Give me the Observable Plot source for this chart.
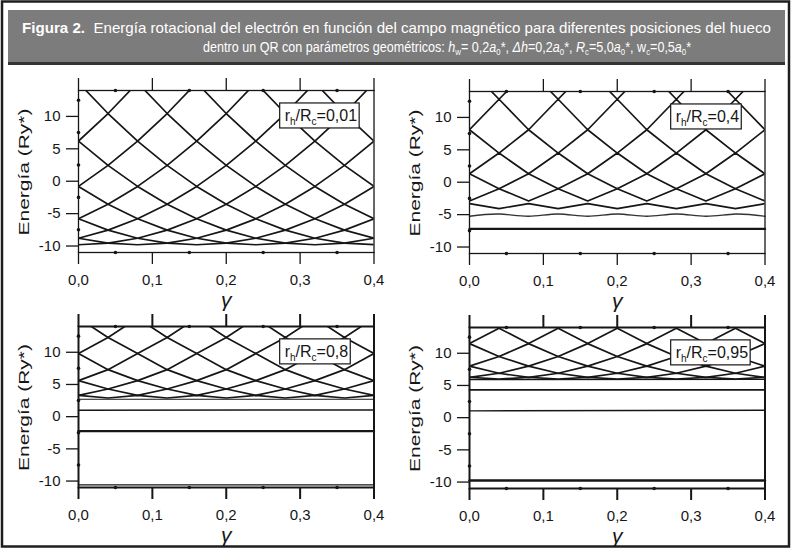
<!DOCTYPE html>
<html><head><meta charset="utf-8">
<script src="https://cdn.jsdelivr.net/npm/d3@7"></script>
<script src="https://cdn.jsdelivr.net/npm/@observablehq/plot@0.6"></script>
<style>
body{margin:0;background:#fff;}
#fig{position:relative;width:793px;height:549px;overflow:hidden;font-family:"Liberation Sans",Arial,sans-serif;}
#fig > svg{position:absolute;}
</style></head><body><div id="fig">
<svg id="head" width="793" height="549" style="left:0;top:0" font-family="Liberation Sans, Arial, sans-serif">
  <rect x="2" y="1.5" width="787" height="545" fill="none" stroke="#1e1e1e" stroke-width="2.5"/>
  <rect x="8" y="10" width="777" height="52" fill="#7c7c7c"/>
  <rect x="8" y="62" width="777" height="3" fill="#333"/>
  <g id="t1g"><text id="t1" x="0" y="33" text-anchor="start" fill="#fff" font-size="14"><tspan font-weight="bold">Figura 2.</tspan>&#160;&#160;Energía rotacional del electrón en función del campo magnético para diferentes posiciones del hueco</text></g>
  <g id="t2g"><text id="t2" x="0" y="52" text-anchor="start" fill="#fff" font-size="14.5">dentro un QR con parámetros geométricos: <tspan font-style="italic">h</tspan><tspan font-size="9" dy="3">w</tspan><tspan dy="-3">= 0,2</tspan><tspan font-style="italic">a</tspan><tspan font-size="9" dy="3">0</tspan><tspan dy="-3">*, </tspan><tspan font-style="italic">Δh</tspan><tspan>=0,2</tspan><tspan font-style="italic">a</tspan><tspan font-size="9" dy="3">0</tspan><tspan dy="-3">*, </tspan><tspan font-style="italic">R</tspan><tspan font-size="9" dy="3">c</tspan><tspan dy="-3">=5,0</tspan><tspan font-style="italic">a</tspan><tspan font-size="9" dy="3">0</tspan><tspan dy="-3">*, w</tspan><tspan font-size="9" dy="3">c</tspan><tspan dy="-3">=0,5</tspan><tspan font-style="italic">a</tspan><tspan font-size="9" dy="3">0</tspan><tspan dy="-3">*</tspan></text></g>
</svg>
</div>
<script>
// ---------- data ----------
const gamma = [0, 0.04, 0.08, 0.12, 0.16, 0.2, 0.24, 0.28, 0.32, 0.36, 0.4];
const xDomain = [0, 0.4];
const yDomain = [-11, 14];
const xTicks = [0, 0.1, 0.2, 0.3, 0.4];
const xTickLabels = ["0,0", "0,1", "0,2", "0,3", "0,4"];
const yTicks = [-10, -5, 0, 5, 10];
const xMinor = [0.05, 0.15, 0.25, 0.35];
const yMinor = [-7.5, -2.5, 2.5, 7.5, 12.5];
const ratioLabels = ["0,01", "0,4", "0,8", "0,95"];

// panel 1: r_h/R_c = 0,01 (energy at each gamma)
const p1Curves = [
  [6.2, 10.45, 15.2, 20.45, null, null, null, null, null, null, null],
  [-0.8, 2.45, 6.2, 10.45, 15.2, 20.45, null, null, null, null, null],
  [-5.8, -3.55, -0.8, 2.45, 6.2, 10.45, 15.2, 20.45, null, null, null],
  [-8.8, -7.55, -5.8, -3.55, -0.8, 2.45, 6.2, 10.45, 15.2, 20.45, null],
  [-9.8, -9.55, -8.8, -7.55, -5.8, -3.55, -0.8, 2.45, 6.2, 10.45, 15.2],
  [-8.8, -9.55, -9.8, -9.55, -8.8, -7.55, -5.8, -3.55, -0.8, 2.45, 6.2],
  [-5.8, -7.55, -8.8, -9.55, -9.8, -9.55, -8.8, -7.55, -5.8, -3.55, -0.8],
  [-0.8, -3.55, -5.8, -7.55, -8.8, -9.55, -9.8, -9.55, -8.8, -7.55, -5.8],
  [6.2, 2.45, -0.8, -3.55, -5.8, -7.55, -8.8, -9.55, -9.8, -9.55, -8.8],
  [15.2, 10.45, 6.2, 2.45, -0.8, -3.55, -5.8, -7.55, -8.8, -9.55, -9.8],
  [null, 20.45, 15.2, 10.45, 6.2, 2.45, -0.8, -3.55, -5.8, -7.55, -8.8],
  [null, null, null, 20.45, 15.2, 10.45, 6.2, 2.45, -0.8, -3.55, -5.8],
  [null, null, null, null, null, 20.45, 15.2, 10.45, 6.2, 2.45, -0.8],
  [null, null, null, null, null, null, null, 20.45, 15.2, 10.45, 6.2]
];
const p1Flats = [];
const p1Wave = [];

// panel 2: r_h/R_c = 0,4
const p2Curves = [
  [-3.3, -4.07, -3.3, -4.07, -3.3, -4.07, -3.3, -4.07, -3.3, -4.07, -3.3],
  [-2.9, -1.0, -2.9, -1.0, -2.9, -1.0, -2.9, -1.0, -2.9, -1.0, -2.9],
  [1.3, -1.0, 1.3, -1.0, 1.3, -1.0, 1.3, -1.0, 1.3, -1.0, 1.3],
  [1.3, 4.5, 1.3, 4.5, 1.3, 4.5, 1.3, 4.5, 1.3, 4.5, 1.3],
  [8.1, 4.5, 8.1, 4.5, 8.1, 4.5, 8.1, 4.5, 8.1, 4.5, 8.1],
  [8.1, 12.8, 8.1, 12.8, 8.1, 12.8, 8.1, 12.8, 8.1, 12.8, 8.1],
  [17.5, 12.8, 17.5, 12.8, 17.5, 12.8, 17.5, 12.8, 17.5, 12.8, 17.5]
];
const p2Flats = [[-7.2, -7.2]];
const p2FlatWidths = [2.4];
const p2Wave = [-5.25, -4.9, -5.25, -4.9, -5.25, -4.9, -5.25, -4.9, -5.25, -4.9, -5.25];

// panel 3: r_h/R_c = 0,8
const p3Curves = [
  [3.3, 2.9, 3.3, 2.9, 3.3, 2.9, 3.3, 2.9, 3.3, 2.9, 3.3],
  [3.3, 4.3, 3.3, 4.3, 3.3, 4.3, 3.3, 4.3, 3.3, 4.3, 3.3],
  [5.6, 4.3, 5.6, 4.3, 5.6, 4.3, 5.6, 4.3, 5.6, 4.3, 5.6],
  [5.6, 7.3, 5.6, 7.3, 5.6, 7.3, 5.6, 7.3, 5.6, 7.3, 5.6],
  [9.8, 7.3, 9.8, 7.3, 9.8, 7.3, 9.8, 7.3, 9.8, 7.3, 9.8],
  [9.8, 12.3, 9.8, 12.3, 9.8, 12.3, 9.8, 12.3, 9.8, 12.3, 9.8],
  [15.3, 12.3, 15.3, 12.3, 15.3, 12.3, 15.3, 12.3, 15.3, 12.3, 15.3]
];
const p3Flats = [[-10.6, -10.6], [-2.25, -2.25], [1.0, 1.05], [2.7, 2.7]];
const p3FlatWidths = [1.3, 2.4, 1.5, 1.2];
const p3Wave = [];

// panel 4: r_h/R_c = 0,95
const p4Curves = [
  [6.25, 6.0, 6.25, 6.0, 6.25, 6.0, 6.25, 6.0, 6.25, 6.0, 6.25],
  [6.25, 6.9, 6.25, 6.9, 6.25, 6.9, 6.25, 6.9, 6.25, 6.9, 6.25],
  [8.0, 6.9, 8.0, 6.9, 8.0, 6.9, 8.0, 6.9, 8.0, 6.9, 8.0],
  [8.0, 9.5, 8.0, 9.5, 8.0, 9.5, 8.0, 9.5, 8.0, 9.5, 8.0],
  [11.5, 9.5, 11.5, 9.5, 11.5, 9.5, 11.5, 9.5, 11.5, 9.5, 11.5],
  [11.5, 13.9, 11.5, 13.9, 11.5, 13.9, 11.5, 13.9, 11.5, 13.9, 11.5],
  [16.8, 13.9, 16.8, 13.9, 16.8, 13.9, 16.8, 13.9, 16.8, 13.9, 16.8]
];
const p4Flats = [[-9.75, -9.75], [1.05, 1.15], [4.3, 4.3], [5.9, 5.95]];
const p4FlatWidths = [2.4, 1.4, 1.8, 1.3];
const p4Wave = [];

// ---------- header text fitting ----------
function fitText(gId, tId, left, right) {
  const t = document.getElementById(tId);
  const w = t.getBBox().width;
  const s = (right - left) / w;
  document.getElementById(gId).setAttribute("transform", `translate(${left},0) scale(${s},1)`);
}
fitText("t1g", "t1", 22, 772);
fitText("t2g", "t2", 203, 692);

// ---------- layout ----------
const ML = 75, MT = 20, MR = 10, MB = 60;
const panels = [
  {left: 77.5, top: 90, w: 295.5, h: 162, curves: p1Curves, flats: p1Flats, widths: [], wave: p1Wave, label: ratioLabels[0], frameW: 1.3},
  {left: 468.5, top: 90.5, w: 295.5, h: 162, curves: p2Curves, flats: p2Flats, widths: p2FlatWidths, wave: p2Wave, label: ratioLabels[1], frameW: 1.3},
  {left: 77.5, top: 326, w: 295.5, h: 161, curves: p3Curves, flats: p3Flats, widths: p3FlatWidths, wave: p3Wave, label: ratioLabels[2], frameW: 2},
  {left: 468.5, top: 326.5, w: 295.5, h: 161, curves: p4Curves, flats: p4Flats, widths: p4FlatWidths, wave: p4Wave, label: ratioLabels[3], frameW: 2}
];

const ink = "#161616";
const fig = document.getElementById("fig");

panels.forEach(p => {
  const rows = [];
  p.curves.forEach((c, i) => c.forEach((e, k) => rows.push({g: gamma[k], e, id: i})));
  const flatMarks = p.flats.map((f, i) => Plot.line(
    [{g: xDomain[0], e: f[0]}, {g: xDomain[1], e: f[1]}],
    {x: "g", y: "e", stroke: ink, strokeWidth: p.widths[i]}));
  const waveRows = p.wave.map((e, k) => ({g: gamma[k], e}));
  const chart = Plot.plot({
    width: ML + p.w + MR,
    height: MT + p.h + MB,
    marginLeft: ML, marginRight: MR, marginTop: MT, marginBottom: MB,
    x: {domain: xDomain},
    y: {domain: yDomain},
    style: {fontFamily: "Liberation Sans, Arial, sans-serif", fontSize: "15px", color: ink, background: "transparent", overflow: "visible"},
    marks: [
      Plot.line(rows, {x: "g", y: "e", z: "id", stroke: ink, strokeWidth: 1.7, clip: true}),
      ...flatMarks,
      Plot.line(waveRows, {x: "g", y: "e", stroke: "#333", strokeWidth: 1.4, curve: "natural"}),
      Plot.frame({stroke: ink, strokeWidth: p.frameW}),
      Plot.axisX({anchor: "bottom", ticks: xTicks, tickSize: 12, tickPadding: 10, tickFormat: (d, i) => xTickLabels[i], label: null, stroke: ink, strokeWidth: p.frameW}),
      Plot.axisX({anchor: "top", ticks: xTicks, tickSize: 13, tickFormat: () => "", label: null, stroke: ink, strokeWidth: p.frameW}),
      Plot.axisY({anchor: "left", ticks: yTicks, tickSize: 12, tickPadding: 6, tickFormat: d => String(d), label: null, stroke: ink, strokeWidth: 1.3}),
      Plot.dot(xMinor, {x: d => d, y: yDomain[1], r: 1.8, fill: ink, stroke: null}),
      Plot.dot(xMinor, {x: d => d, y: yDomain[0], r: 1.8, fill: ink, stroke: null}),
      Plot.dot(yMinor, {x: xDomain[0], y: d => d, r: 1.8, fill: ink, stroke: null}),
      Plot.text(["γ"], {text: d => d, frameAnchor: "bottom", dy: 54, fontSize: 21, fontStyle: "italic", fill: ink})
    ]
  });
  chart.style.left = (p.left - ML) + "px";
  chart.style.top = (p.top - MT) + "px";
  fig.appendChild(chart);
  const svg = d3.select(chart);
  // y-axis title
  const yl = svg.append("text").attr("text-anchor", "middle").attr("dominant-baseline", "central")
    .attr("font-size", 15.5).attr("fill", ink).text("Energía (Ry*)");
  const natural = yl.node().getComputedTextLength();
  const cy = MT + p.h / 2 + 1;
  yl.attr("transform", `translate(${ML - 54},${cy}) rotate(-90) scale(${127 / natural},1)`);
  // ratio label box
  const xs = chart.scale("x"), ys = chart.scale("y");
  const bx = xs.apply(0.273), by = ys.apply(12);
  const gBox = svg.append("g");
  const t = gBox.append("text").attr("text-anchor", "start").attr("x", bx + 5).attr("y", by + 18.5).attr("font-size", 16).attr("fill", ink);
  t.append("tspan").text("r");
  t.append("tspan").attr("font-size", 10).attr("dy", 4).text("h");
  t.append("tspan").attr("dy", -4).text("/R");
  t.append("tspan").attr("font-size", 10).attr("dy", 4).text("c");
  t.append("tspan").attr("dy", -4).text("=" + p.label);
  const bb = t.node().getBBox();
  gBox.insert("rect", "text").attr("x", bx).attr("y", by).attr("width", bb.width + 7).attr("height", 25)
    .attr("fill", "#fff").attr("stroke", ink).attr("stroke-width", 1.2);
});
</script>
</body></html>
